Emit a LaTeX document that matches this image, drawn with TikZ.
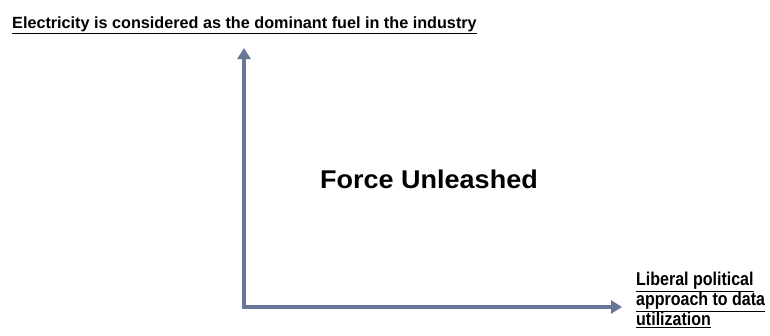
\documentclass[tikz,border=0pt]{standalone}
\usepackage{fontspec}
\setmainfont{Liberation Sans}
\usetikzlibrary{arrows.meta}
\definecolor{axisblue}{RGB}{104,118,152}
\tikzset{
  axis/.style={draw=axisblue, line width=4pt, -{Triangle[length=11pt,width=13pt]}},
  lbl/.style={inner sep=0pt, font=\bfseries},
}
\begin{document}
\begin{tikzpicture}[x=1pt,y=1pt]
\useasboundingbox (0,0) rectangle (770,-335);
\coordinate (o) at (244,-307);
\coordinate (top) at (244,-48);
\coordinate (right) at (622,-307);
\draw[axis] (o) -- (top);
\draw[axis] ([xshift=-2pt]o) -- (right);
\node[lbl, anchor=base west, font=\bfseries\fontsize{16.2}{18}\selectfont] (ytitle) at (12,-28.3) {\underline{Electricity is considered as the dominant fuel in the industry}};
\node[lbl, anchor=base, font=\bfseries\fontsize{27}{30}\selectfont, yscale=0.95, transform shape] (center) at (429,-188.3) {Force Unleashed};
\node[lbl, anchor=base west, align=left, font=\bfseries\fontsize{16}{17}\selectfont, yscale=1.16, transform shape] (xtitle) at (636,-325) {\underline{Liberal political}\\\underline{approach to data}\\\underline{utilization}};
\end{tikzpicture}
\end{document}
